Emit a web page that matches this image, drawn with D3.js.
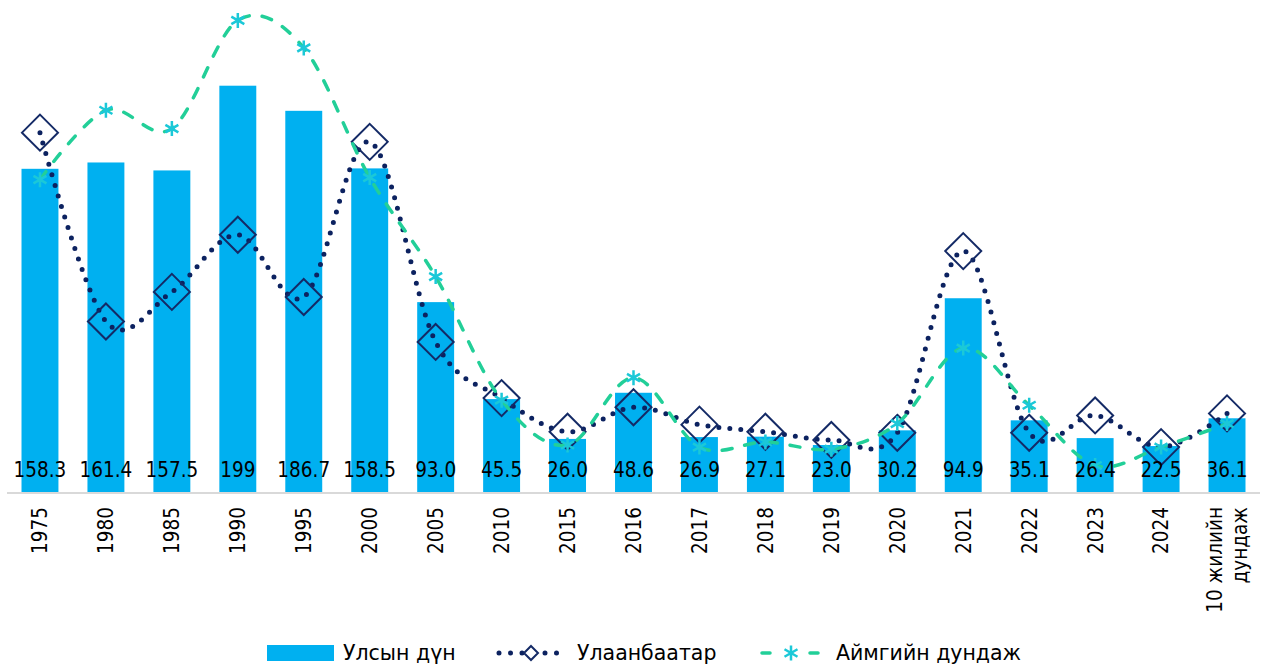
<!DOCTYPE html>
<html>
<head>
<meta charset="utf-8">
<script src="https://cdn.jsdelivr.net/npm/d3@7"></script>
<style>
  html, body { margin: 0; padding: 0; background: #fff; }
  text { font-family: "DejaVu Sans Condensed", "DejaVu Sans", sans-serif; font-stretch: condensed; fill: #000; }
  text.legend-label { font-family: "DejaVu Sans", sans-serif; font-stretch: normal; }
</style>
</head>
<body>
<div id="chart"></div>
<script>
const categories = ['1975', '1980', '1985', '1990', '1995', '2000', '2005', '2010', '2015', '2016',
    '2017', '2018', '2019', '2020', '2021', '2022', '2023', '2024', '10 жилийн|дундаж'];
const nationalValues = [158.3, 161.4, 157.5, 199, 186.7, 158.5, 93.0, 45.5, 26.0, 48.6,
    26.9, 27.1, 23.0, 30.2, 94.9, 35.1, 26.4, 22.5, 36.1];
const nationalLabels = ['158.3', '161.4', '157.5', '199', '186.7', '158.5', '93.0', '45.5', '26.0', '48.6',
    '26.9', '27.1', '23.0', '30.2', '94.9', '35.1', '26.4', '22.5', '36.1'];
const ubValues = [176, 83.5, 98, 126, 95.5, 171.5, 73.5, 46, 29.5, 41.5,
    33, 29.5, 25.5, 29, 118, 29, 37.5, 22, 38.5];
const aimagValues = [153, 187, 178, 231, 217.5, 154, 105.5, 45, 23, 56,
    22, 24.5, 21, 33.5, 70.5, 42.5, 13, 22, 33.5];
const seriesNames = ['Улсын дүн', 'Улаанбаатар', 'Аймгийн дундаж'];

const width = 1261, height = 668;
const barColor = '#00b0f0', ubColor = '#0c2260', aimagLine = '#22cf98', aimagMark = '#1bc8d8';

const svg = d3.select('#chart').append('svg')
    .attr('width', width)
    .attr('height', height);

const x = d3.scaleBand()
    .domain(categories)
    .range([7, 1260])
    .paddingInner(0.44)
    .paddingOuter(0.22);

const y = d3.scaleLinear()
    .domain([0, 240])
    .range([492, 2]);

const cx = d => x(d) + x.bandwidth() / 2;

// Bars
svg.selectAll('.bar')
    .data(categories)
    .enter()
    .append('rect')
    .attr('class', 'bar')
    .attr('x', d => x(d))
    .attr('y', (d, i) => y(nationalValues[i]))
    .attr('width', x.bandwidth())
    .attr('height', (d, i) => y(0) - y(nationalValues[i]))
    .attr('fill', barColor);

// Axis line
svg.append('line')
    .attr('x1', 7).attr('x2', 1260)
    .attr('y1', y(0) + 1).attr('y2', y(0) + 1)
    .attr('stroke', '#d9d9d9')
    .attr('stroke-width', 2);

const smooth = d3.line()
    .x(d => d[0])
    .y(d => d[1])
    .curve(d3.curveCardinal.tension(0));

const diamond = r => `M0,${-r}L${r},0L0,${r}L${-r},0Z`;
const asterisk = r => {
    const a = r * Math.cos(Math.PI / 6), b = r * Math.sin(Math.PI / 6);
    return `M0,${-r}L0,${r}M${-a},${-b}L${a},${b}M${-a},${b}L${a},${-b}`;
};

// Ulaanbaatar series
svg.append('path')
    .attr('d', smooth(categories.map((c, i) => [cx(c), y(ubValues[i])])))
    .attr('fill', 'none')
    .attr('stroke', ubColor)
    .attr('stroke-width', 5)
    .attr('stroke-linecap', 'round')
    .attr('stroke-dasharray', '0 11');

svg.selectAll('.ub-marker')
    .data(categories)
    .enter()
    .append('path')
    .attr('class', 'ub-marker')
    .attr('transform', (d, i) => `translate(${cx(d)},${y(ubValues[i])})`)
    .attr('d', diamond(18))
    .attr('fill', 'none')
    .attr('stroke', '#142a66')
    .attr('stroke-width', 2);

// Aimag series
svg.append('path')
    .attr('d', smooth(categories.map((c, i) => [cx(c), y(aimagValues[i])])))
    .attr('fill', 'none')
    .attr('stroke', aimagLine)
    .attr('stroke-width', 3.5)
    .attr('stroke-linecap', 'round')
    .attr('stroke-dasharray', '10 13');

svg.selectAll('.aimag-marker')
    .data(categories)
    .enter()
    .append('path')
    .attr('class', 'aimag-marker')
    .attr('transform', (d, i) => `translate(${cx(d)},${y(aimagValues[i])})`)
    .attr('d', asterisk(7.5))
    .attr('fill', 'none')
    .attr('stroke', aimagMark)
    .attr('stroke-width', 2.5);

// Bar labels
svg.selectAll('.bar-label')
    .data(categories)
    .enter()
    .append('text')
    .attr('class', 'bar-label')
    .attr('x', d => cx(d))
    .attr('y', 477)
    .attr('text-anchor', 'middle')
    .style('font-size', '20.5px')
    .text((d, i) => nationalLabels[i]);

// Category labels (rotated)
const ticks = svg.selectAll('.tick-label')
    .data(categories)
    .enter()
    .append('text')
    .attr('class', 'tick-label')
    .attr('transform', d => `translate(${cx(d)},507) rotate(-90)`)
    .attr('text-anchor', 'end')
    .style('font-size', '20.5px');

ticks.each(function (d) {
    const lines = d.split('|');
    const t = d3.select(this);
    lines.forEach((ln, k) => {
        t.append('tspan')
            .attr('x', 0)
            .attr('y', 0)
            .attr('dy', `${0.36 + (k - (lines.length - 1) / 2) * 1.2}em`)
            .text(ln);
    });
});

// Legend
const legendY = 653;
const legend = svg.append('g');

legend.append('rect')
    .attr('x', 267).attr('y', legendY - 8)
    .attr('width', 67).attr('height', 16)
    .attr('fill', barColor);
legend.append('text')
    .attr('class', 'legend-label')
    .attr('x', 343).attr('y', legendY + 7)
    .style('font-size', '20.5px')
    .text(seriesNames[0]);

legend.append('line')
    .attr('x1', 499).attr('x2', 560)
    .attr('y1', legendY).attr('y2', legendY)
    .attr('stroke', ubColor)
    .attr('stroke-width', 5)
    .attr('stroke-linecap', 'round')
    .attr('stroke-dasharray', '0 11.5');
legend.append('path')
    .attr('transform', `translate(531,${legendY})`)
    .attr('d', diamond(7))
    .attr('fill', '#fff')
    .attr('stroke', '#142a66')
    .attr('stroke-width', 2);
legend.append('text')
    .attr('class', 'legend-label')
    .attr('x', 577).attr('y', legendY + 7)
    .style('font-size', '20.5px')
    .text(seriesNames[1]);

legend.append('line')
    .attr('x1', 762).attr('x2', 818)
    .attr('y1', legendY).attr('y2', legendY)
    .attr('stroke', aimagLine)
    .attr('stroke-width', 3.5)
    .attr('stroke-linecap', 'round')
    .attr('stroke-dasharray', '8 40');
legend.append('path')
    .attr('transform', `translate(791,${legendY})`)
    .attr('d', asterisk(7.5))
    .attr('fill', 'none')
    .attr('stroke', aimagMark)
    .attr('stroke-width', 2.5);
legend.append('text')
    .attr('class', 'legend-label')
    .attr('x', 836).attr('y', legendY + 7)
    .style('font-size', '20.5px')
    .text(seriesNames[2]);
</script>
</body>
</html>
